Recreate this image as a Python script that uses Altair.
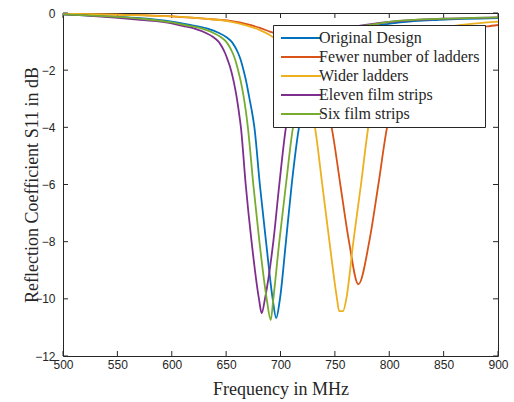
import altair as alt
import pandas as pd

# ---- data ----
series_names = ["Original Design", "Fewer number of ladders", "Wider ladders",
                "Eleven film strips", "Six film strips"]
series_colors = ["#0072BD", "#D95319", "#EDB120", "#7E2F8E", "#77AC30"]

freq_orig = [500, 540, 571, 600, 617, 633, 644, 650, 655, 658, 661, 663.5, 666, 668.5, 671, 673.5, 676,
             681, 686.7, 692.8, 696, 699.5, 705, 710.3, 717, 723, 730, 740, 752, 770, 792, 810, 846, 900]
s11_orig = [-0.05, -0.12, -0.18, -0.3, -0.42, -0.55, -0.71, -0.84, -1.0, -1.17, -1.4, -1.65, -2.0, -2.4,
            -2.9, -3.4, -4.0, -6.0, -8.0, -10.0, -10.67, -10.0, -8.0, -6.0, -4.0, -3.0, -2.0, -1.2,
            -0.8, -0.55, -0.42, -0.33, -0.24, -0.18]

freq_fewer = [500, 550, 600, 630, 654, 670, 681, 690, 694, 705, 715, 725, 733, 740, 747, 755, 763,
              771.6, 781.6, 790, 798, 805, 812, 820, 835, 855, 875, 890, 900]
s11_fewer = [-0.03, -0.06, -0.12, -0.2, -0.28, -0.4, -0.52, -0.65, -0.7, -0.85, -1.05, -1.5, -2.1, -3.0,
             -4.0, -6.0, -8.0, -9.49, -8.0, -6.0, -4.0, -3.0, -2.1, -1.4, -0.9, -0.65, -0.52, -0.47, -0.42]

freq_wider = [500, 550, 600, 630, 654, 670, 681, 690, 694, 705, 712, 719, 726, 731.7, 738.4, 745,
              751.7, 754, 757.5, 760.5, 767, 774, 780.7, 787, 795, 810, 840, 866, 887, 900]
s11_wider = [-0.02, -0.06, -0.12, -0.2, -0.3, -0.45, -0.6, -0.77, -0.87, -1.1, -1.5, -2.1, -3.0, -4.0,
             -6.0, -8.0, -9.93, -10.43, -10.43, -10.0, -8.0, -6.0, -4.0, -2.8, -1.8, -1.0, -0.6, -0.42,
             -0.34, -0.3]

freq_eleven = [500, 525, 571, 600, 610, 621, 632, 638, 643, 646, 649, 651.5, 654.5, 657, 659.5, 661.5,
               663.6, 668, 673.4, 680.2, 682.7, 685.7, 693.4, 698.9, 705, 711, 718, 730, 745, 765, 778,
               810, 850, 900]
s11_eleven = [-0.05, -0.1, -0.24, -0.36, -0.45, -0.55, -0.71, -0.84, -1.0, -1.17, -1.4, -1.65, -2.0,
              -2.4, -2.9, -3.4, -4.0, -6.0, -8.0, -10.0, -10.5, -10.0, -8.0, -6.0, -4.0, -3.0, -2.0,
              -1.2, -0.75, -0.5, -0.42, -0.28, -0.2, -0.15]

freq_six = [500, 571, 600, 612, 628, 639, 645, 650, 653, 656, 658.5, 661, 663.5, 666, 668, 670,
            675, 680.6, 687.3, 691, 693.4, 698.9, 705, 711.5, 718, 725, 737, 750, 770, 785, 810, 850, 900]
s11_six = [-0.05, -0.2, -0.33, -0.42, -0.55, -0.71, -0.84, -1.0, -1.17, -1.4, -1.65, -2.0, -2.4, -2.9,
           -3.4, -4.0, -6.0, -8.0, -10.0, -10.74, -10.0, -8.0, -6.0, -4.0, -3.0, -2.0, -1.2, -0.8,
           -0.5, -0.4, -0.27, -0.2, -0.15]

x_ticks = [500, 550, 600, 650, 700, 750, 800, 850, 900]
y_ticks = [-12, -10, -8, -6, -4, -2, 0]

# ---- build table ----
rows = []
all_series = [(freq_orig, s11_orig), (freq_fewer, s11_fewer), (freq_wider, s11_wider),
              (freq_eleven, s11_eleven), (freq_six, s11_six)]
for i, (name, (fs, vs)) in enumerate(zip(series_names, all_series)):
    for f, v in zip(fs, vs):
        rows.append({"series": name, "order": i, "f": f, "s11": v})
df = pd.DataFrame(rows)

W, H = 435, 343
AX = "#262626"
xscale = alt.Scale(domain=[500, 900], nice=False, zero=False)
yscale = alt.Scale(domain=[-12, 0], nice=False, zero=False)

lines = alt.Chart(df).mark_line(strokeWidth=1.8, interpolate="monotone", clip=True).encode(
    x=alt.X("f:Q", scale=xscale,
            axis=alt.Axis(values=x_ticks, title="Frequency in MHz", ticks=False, domain=False,
                          grid=False, labelPadding=3, labelFlush=False, labelFont="Liberation Sans",
                          labelFontSize=12, labelColor=AX, titleFont="Liberation Serif",
                          titleFontSize=18, titleFontWeight="normal", titleColor=AX, titleY=38,
                          titleBaseline="alphabetic")),
    y=alt.Y("s11:Q", scale=yscale,
            axis=alt.Axis(values=y_ticks, title="Reflection Coefficient S11 in dB", ticks=False,
                          domain=False, grid=False, labelPadding=8, labelFlush=False,
                          labelFont="Liberation Sans", labelFontSize=12, labelColor=AX,
                          titleFont="Liberation Serif", titleFontSize=18, titleFontWeight="normal",
                          titleColor=AX, titleX=-26, titleY=H / 2, titleBaseline="alphabetic")),
    color=alt.Color("series:N", scale=alt.Scale(domain=series_names, range=series_colors),
                    legend=alt.Legend(title=None, orient="none", legendX=210, legendY=12,
                                      symbolType="M-4,0H4", symbolSize=100, symbolStrokeWidth=2,
                                      symbolOffset=15,
                                      labelFont="Liberation Serif", labelFontSize=16,
                                      labelColor=AX, labelOffset=10, padding=5,
                                      strokeColor=AX, fillColor="white", rowPadding=3,
                                      cornerRadius=0, labelLimit=300)),
    order=alt.Order("order:Q"),
    detail="series:N",
)

xt = pd.DataFrame({"t": x_ticks})
yt = pd.DataFrame({"t": y_ticks})
tick_b = alt.Chart(xt).mark_rule(color=AX, strokeWidth=1).encode(
    x=alt.X("t:Q", scale=xscale), y=alt.value(H), y2=alt.value(H - 5))
tick_t = alt.Chart(xt).mark_rule(color=AX, strokeWidth=1).encode(
    x=alt.X("t:Q", scale=xscale), y=alt.value(0), y2=alt.value(5))
tick_l = alt.Chart(yt).mark_rule(color=AX, strokeWidth=1).encode(
    y=alt.Y("t:Q", scale=yscale), x=alt.value(0), x2=alt.value(5))
tick_r = alt.Chart(yt).mark_rule(color=AX, strokeWidth=1).encode(
    y=alt.Y("t:Q", scale=yscale), x=alt.value(W), x2=alt.value(W - 5))

chart = alt.layer(tick_b, tick_t, tick_l, tick_r, lines).properties(
    width=W, height=H,
    padding={"left": 63, "top": 13, "right": 16, "bottom": 46},
    autosize=alt.AutoSizeParams(type="none"),
    background="white",
).configure_view(stroke=AX, strokeWidth=1)

chart.save("out.html", embed_options={"renderer": "svg", "actions": False})
